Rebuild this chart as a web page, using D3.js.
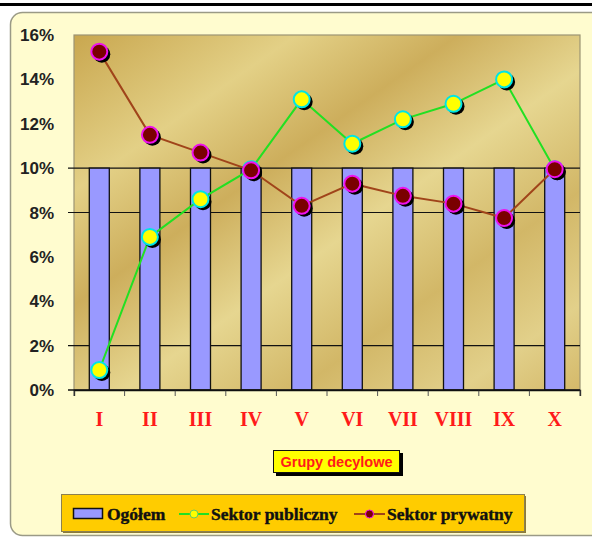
<!DOCTYPE html>
<html><head><meta charset="utf-8">
<script src="https://cdn.jsdelivr.net/npm/d3@7"></script>
<style>body{margin:0;background:#fff}svg{display:block}</style>
</head><body>
<svg id="c" width="592" height="538"></svg>
<script>
const categories = ["I","II","III","IV","V","VI","VII","VIII","IX","X"];
const ogolem     = [10,10,10,10,10,10,10,10,10,10];
const publiczny  = [0.9,6.9,8.6,9.95,13.1,11.1,12.2,12.9,14.0,9.95];
const prywatny   = [15.25,11.5,10.7,9.9,8.3,9.3,8.75,8.4,7.75,9.95];
const yTicks     = [0,2,4,6,8,10,12,14,16];
const gridTicks  = [2,8,10];
const seriesNames = ["Ogółem","Sektor publiczny","Sektor prywatny"];
const axisTitle = "Grupy decylowe";

const svg = d3.select("#c");
const defs = svg.append("defs");
const g1 = defs.append("linearGradient").attr("id","gold")
  .attr("x1","0").attr("y1","0").attr("x2","1").attr("y2","1");
[[0,"#c9a74f"],[0.22,"#e3d086"],[0.38,"#cdae5c"],[0.55,"#e6d690"],[0.72,"#d2b767"],[0.88,"#e2d08a"],[1,"#d4b96a"]]
  .forEach(([o,c])=>g1.append("stop").attr("offset",o).attr("stop-color",c));

// top black rule
svg.append("rect").attr("x",0).attr("y",3).attr("width",592).attr("height",3).attr("fill","#000");
// chart area
svg.append("rect").attr("x",10.5).attr("y",12.5).attr("width",620).attr("height",523)
  .attr("rx",12).attr("fill","#fffccf").attr("stroke","#9a9a86").attr("stroke-width",1.5);

const L=74, R=580, T=35, B=390;
const x = d3.scaleBand().domain(categories).range([L,R]);
const y = d3.scaleLinear().domain([0,16]).range([B,T]);
const cx = d => x(d)+x.bandwidth()/2;

// plot area
svg.append("rect").attr("x",L).attr("y",T).attr("width",R-L).attr("height",B-T)
  .attr("fill","url(#gold)").attr("stroke","#9c9474").attr("stroke-width",1.2);

// gridlines
svg.append("g").selectAll("line").data(gridTicks).join("line")
  .attr("x1",L-6).attr("x2",R).attr("y1",d=>y(d)).attr("y2",d=>y(d))
  .attr("stroke","#111").attr("stroke-width",1.2);

// bars
const bw = 20;
svg.append("g").selectAll("rect").data(categories).join("rect")
  .attr("x",d=>cx(d)-bw/2).attr("width",bw)
  .attr("y",(d,i)=>y(ogolem[i])).attr("height",(d,i)=>B-y(ogolem[i]))
  .attr("fill","#9999ff").attr("stroke","#111").attr("stroke-width",1.3);

// y axis labels
svg.append("g").selectAll("text").data(yTicks).join("text")
  .attr("x",54).attr("y",d=>y(d)).attr("dy","0.36em").attr("text-anchor","end")
  .attr("font-family","Liberation Sans, Arial, sans-serif").attr("font-weight","bold")
  .attr("font-size",17).attr("fill","#222").text(d=>d+"%");

// x axis
const xa = d3.axisBottom(x).tickSize(6).tickFormat("");
const gx = svg.append("g").attr("transform",`translate(0,${B})`).call(xa);
gx.select(".domain").attr("stroke","#111").attr("stroke-width",1.3);
gx.selectAll(".tick").remove();
const bounds = categories.map(c=>x(c)).concat([R]);
gx.selectAll("line.b").data(bounds).join("line").attr("class","b")
  .attr("x1",d=>d).attr("x2",d=>d).attr("y1",0).attr("y2",6)
  .attr("stroke","#555").attr("stroke-width",1);
svg.append("line").attr("x1",L-6).attr("x2",R).attr("y1",B).attr("y2",B)
  .attr("stroke","#111").attr("stroke-width",1.3);

svg.append("g").selectAll("text").data(categories).join("text")
  .attr("x",d=>cx(d)).attr("y",426).attr("text-anchor","middle")
  .attr("font-family","Liberation Serif, Times New Roman, serif").attr("font-weight","bold")
  .attr("font-size",20).attr("fill","#ff1a1a").text(d=>d);

// lines
function series(vals, lineColor, fill, stroke){
  const line = d3.line().x((d,i)=>cx(categories[i])).y(d=>y(d));
  svg.append("path").datum(vals).attr("d",line).attr("fill","none")
    .attr("stroke",lineColor).attr("stroke-width",2);
  const g = svg.append("g");
  g.selectAll("circle.s").data(vals).join("circle").attr("class","s")
    .attr("cx",(d,i)=>cx(categories[i])+2.5).attr("cy",d=>y(d)+2.5).attr("r",8.5).attr("fill","#000");
  g.selectAll("circle.m").data(vals).join("circle").attr("class","m")
    .attr("cx",(d,i)=>cx(categories[i])).attr("cy",d=>y(d)).attr("r",8)
    .attr("fill",fill).attr("stroke",stroke).attr("stroke-width",2);
}
series(publiczny,"#22e022","#ffff00","#00e5e5");
series(prywatny,"#a0441a","#7a0000","#ee11ee");

// axis title box
svg.append("rect").attr("x",276).attr("y",453).attr("width",127).attr("height",23).attr("fill","#000");
svg.append("rect").attr("x",273.5).attr("y",450.5).attr("width",126).attr("height",22)
  .attr("fill","#ffff00").attr("stroke","#111").attr("stroke-width",1);
svg.append("text").attr("x",336.5).attr("y",466.5).attr("text-anchor","middle")
  .attr("font-family","Liberation Sans, Arial, sans-serif").attr("font-weight","bold")
  .attr("font-size",14.5).attr("fill","#ff1a1a").text(axisTitle);

// legend
svg.append("rect").attr("x",63).attr("y",496).attr("width",463).attr("height",37).attr("fill","#8a7a3a");
svg.append("rect").attr("x",61.5).attr("y",494.5).attr("width",463).attr("height",37)
  .attr("fill","#ffcc00").attr("stroke","#8c8050").attr("stroke-width",1);
const lg = svg.append("g");
const lf = {family:"Liberation Serif, Times New Roman, serif", size:17.5};
lg.append("rect").attr("x",73.5).attr("y",508.5).attr("width",29).attr("height",10)
  .attr("fill","#9999ff").attr("stroke","#111").attr("stroke-width",1.5);
lg.append("text").attr("x",107).attr("y",520).text(seriesNames[0]);
lg.append("line").attr("x1",179).attr("x2",209).attr("y1",514).attr("y2",514).attr("stroke","#22e022").attr("stroke-width",2);
lg.append("circle").attr("cx",194).attr("cy",514).attr("r",4).attr("fill","#ffff00").attr("stroke","#66cc66").attr("stroke-width",1);
lg.append("text").attr("x",211).attr("y",520).text(seriesNames[1]);
lg.append("line").attr("x1",354).attr("x2",385).attr("y1",514).attr("y2",514).attr("stroke","#a0441a").attr("stroke-width",2);
lg.append("circle").attr("cx",369.5).attr("cy",514).attr("r",4).attr("fill","#7a0000").attr("stroke","#ee11ee").attr("stroke-width",1);
lg.append("text").attr("x",387).attr("y",520).text(seriesNames[2]);
lg.selectAll("text").attr("font-family",lf.family).attr("font-weight","bold").attr("font-size",lf.size)
  .attr("fill","#111").attr("stroke","#111").attr("stroke-width",0.4);
</script>
</body></html>
